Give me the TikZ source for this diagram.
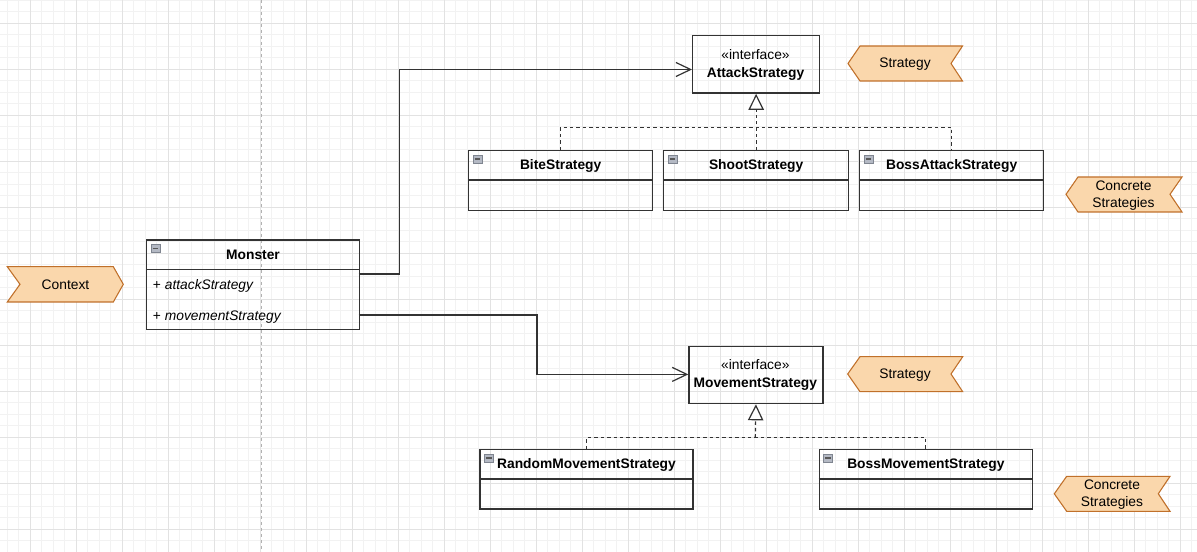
\documentclass[tikz,border=0pt]{standalone}
\usepackage{fontspec}
\setmainfont{Liberation Sans}
\usetikzlibrary{arrows.meta,calc}
\definecolor{tagfill}{HTML}{FAD7AC}
\definecolor{tagline}{HTML}{C0702A}
\definecolor{gridmajor}{HTML}{E2E2E2}
\definecolor{gridminor}{HTML}{F2F2F2}
\definecolor{boxline}{HTML}{333333}
\definecolor{iconfill}{HTML}{B4B9C4}
\definecolor{iconline}{HTML}{7F8590}
\newcommand\collapseicon[1]{%
  \draw[fill=iconfill, draw=iconline, line width=0.5pt] ($(#1.north west)+(5,5)$) rectangle ++(9,8);
  \draw[line width=1.1pt, draw=black!65] ($(#1.north west)+(6.6,9)$) -- ++(5.8,0);}
\newcommand\umlheadline[1]{%
  \draw[boxline, line width=1pt] ($(#1.north west)+(0,30)$) -- ($(#1.north east)+(0,30)$);}
\begin{document}
\begin{tikzpicture}[x=0.75pt,y=-0.75pt,
  every node/.style={font=\fontsize{10.35}{12.75}\selectfont},
  umlbox/.style={draw=boxline, line width=1pt, anchor=north west, inner sep=0pt},
  txt/.style={inner sep=0pt, text height=7.4pt, text depth=0pt},
  title/.style={txt, font=\fontsize{10.35}{12.75}\selectfont\bfseries},
  attr/.style={txt, anchor=west, font=\fontsize{10.35}{12.75}\selectfont\itshape},
  tag/.style={fill=tagfill, draw=tagline, line width=0.8pt, line join=miter},
  assoc/.style={draw=black!80, line width=0.9pt, -{Straight Barb[length=11pt,width=10.5pt,line width=0.9pt]}},
  realize/.style={draw=black!80, line width=0.9pt, dash pattern=on 2.6pt off 2.2pt},
  realtip/.style={-{Triangle[length=12pt,width=11.6pt,fill=white,line width=0.9pt]}},
  minorgrid/.style={draw=gridminor, line width=0.7pt},
  majorgrid/.style={draw=gridmajor, line width=0.75pt}]
\useasboundingbox (0,0) rectangle (1197,552);
\fill[white] (0,0) rectangle (1197,552);
% grid
\foreach \x in {7,18.5,...,1197} \draw[minorgrid] (\x,0) -- (\x,552);
\foreach \y in {0.3,11.8,...,552} \draw[minorgrid] (0,\y) -- (1197,\y);
\foreach \x in {30,76,...,1197} \draw[majorgrid] (\x,0) -- (\x,552);
\foreach \y in {23.3,69.3,...,552} \draw[majorgrid] (0,\y) -- (1197,\y);
\draw[draw=black!30, line width=0.75pt, dash pattern=on 2.5pt off 2pt] (261,0) -- (261,552);

% tags
\draw[tag] (7.3,266.7) -- (113.3,266.7) -- (123.3,284.3) -- (113.3,302) -- (7.3,302) -- (20,284.3) -- cycle;
\node[txt] (contextt) at (65.5,284.5) {Context};
\draw[tag] (848,63.5) -- (860,46) -- (962.5,46) -- (951,63.5) -- (962.5,81) -- (860,81) -- cycle;
\node[txt] (strat1) at (905,62.8) {Strategy};
\draw[tag] (1066,194.3) -- (1078,177) -- (1182,177) -- (1170,194.3) -- (1182,212) -- (1078,212) -- cycle;
\node[txt] (conc1a) at (1123.5,185.5) {Concrete};
\node[txt] (conc1b) at (1123.5,202.5) {Strategies};
\draw[tag] (847.7,374) -- (860,356.7) -- (962.7,356.7) -- (951,374) -- (962.7,391.7) -- (860,391.7) -- cycle;
\node[txt] (strat2) at (905,373.3) {Strategy};
\draw[tag] (1054.3,493.8) -- (1066.7,476.3) -- (1170,476.3) -- (1158.3,493.8) -- (1170,511.3) -- (1066.7,511.3) -- cycle;
\node[txt] (conc2a) at (1112,485) {Concrete};
\node[txt] (conc2b) at (1112,502) {Strategies};

% Monster
\node[umlbox, minimum width=212.7*0.75pt, minimum height=89.5*0.75pt] (monster) at (146,239.5) {};
\umlheadline{monster}
\collapseicon{monster}
\node[title] (monstert) at ($(monster.north)+(0,15.5)$) {Monster};
\node[attr] (attr1) at (152.7,285) {\upshape+ \itshape attackStrategy};
\node[attr] (attr2) at (152.7,315.3) {\upshape+ \itshape movementStrategy};

% interfaces
\node[umlbox, minimum width=127*0.75pt, minimum height=57.5*0.75pt] (attack) at (692,35) {};
\node[txt] (attacks) at (755.5,54.8) {«interface»};
\node[title] (attackt) at (755.5,72.2) {AttackStrategy};
\node[umlbox, minimum width=134*0.75pt, minimum height=57.3*0.75pt] (movement) at (688.3,345.7) {};
\node[txt] (movements) at (755.3,365) {«interface»};
\node[title] (movementt) at (755.3,382.8) {MovementStrategy};

% concrete classes
\node[umlbox, minimum width=184*0.75pt, minimum height=60*0.75pt] (bite) at (468,150) {};
\node[umlbox, minimum width=185*0.75pt, minimum height=60*0.75pt] (shoot) at (663,150) {};
\node[umlbox, minimum width=184*0.75pt, minimum height=60*0.75pt] (bossatk) at (859,150) {};
\node[umlbox, minimum width=213*0.75pt, minimum height=59.3*0.75pt] (random) at (479.3,449) {};
\node[umlbox, minimum width=213*0.75pt, minimum height=59.3*0.75pt] (bossmov) at (818.7,449) {};
\foreach \b in {bite,shoot,bossatk,random,bossmov} {\umlheadline{\b}\collapseicon{\b}}
\node[title] (bitet) at ($(bite.north)+(0,15)$) {BiteStrategy};
\node[title] (shoott) at ($(shoot.north)+(0,15)$) {ShootStrategy};
\node[title] (bossatkt) at ($(bossatk.north)+(0,15)$) {BossAttackStrategy};
\node[title] (randomt) at ($(random.north)+(0,15)$) {RandomMovementStrategy};
\node[title] (bossmovt) at ($(bossmov.north)+(0,15)$) {BossMovementStrategy};

% associations
\coordinate (m1) at (358.7,274);
\coordinate (a1) at (399.3,69.5);
\draw[assoc] (m1) -| (a1) -- (attack.west |- a1);
\coordinate (m2) at (358.7,315);
\coordinate (b1) at (537,374.4);
\draw[assoc] (m2) -| (b1) -- (movement.west |- b1);

% realizations
\coordinate (j1) at (755.5,127.3);
\draw[realize] (bite.north) |- (j1) -| (bossatk.north);
\draw[realize, realtip] (shoot.north) -- (attack.south);
\coordinate (j2) at (755.3,437.7);
\draw[realize] (random.north) |- (j2) -| (bossmov.north);
\draw[realize, realtip] (j2) -- (movement.south);
\end{tikzpicture}
\end{document}
